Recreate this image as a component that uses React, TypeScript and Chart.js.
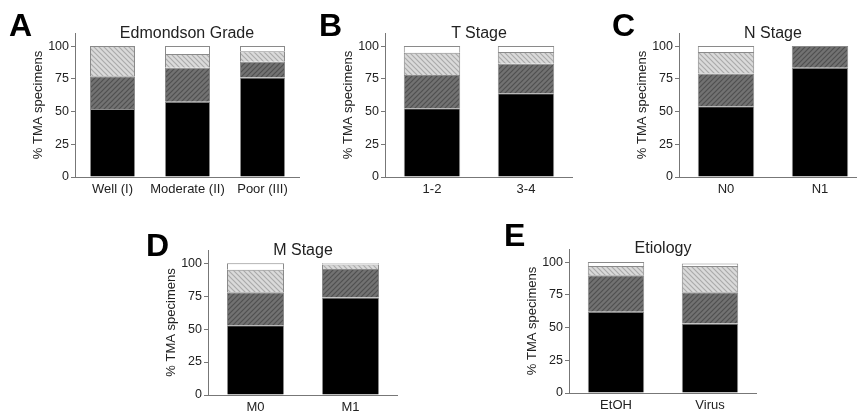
import React, { useEffect, useRef } from "react";
import { Chart, registerables } from "chart.js";

Chart.register(...registerables);

// ---- Data ----
const gradeLabels = ["Well (I)", "Moderate (II)", "Poor (III)"];
const gradeBlack = [52, 57.5, 76];
const gradeDark = [25, 26, 12];
const gradeLight = [23, 10.5, 8];
const gradeWhite = [0, 6, 4];

const tLabels = ["1-2", "3-4"];
const tBlack = [52.5, 64];
const tDark = [25.5, 22.5];
const tLight = [17, 9];
const tWhite = [5, 4.5];

const nLabels = ["N0", "N1"];
const nBlack = [54, 83.5];
const nDark = [25, 16.5];
const nLight = [16.5, 0];
const nWhite = [4.5, 0];

const mLabels = ["M0", "M1"];
const mBlack = [53, 74];
const mDark = [25, 21.5];
const mLight = [17, 3.5];
const mWhite = [5, 1];

const eLabels = ["EtOH", "Virus"];
const eBlack = [62, 53];
const eDark = [28, 24];
const eLight = [7, 20];
const eWhite = [3, 2];

const yTicks = [0, 25, 50, 75, 100];

const FONT = "Arial, 'Liberation Sans', Helvetica, sans-serif";

function makePattern(bg: string, line: string, forward: boolean) {
  const c = document.createElement("canvas");
  c.width = 5;
  c.height = 5;
  const ctx = c.getContext("2d")!;
  ctx.fillStyle = bg;
  ctx.fillRect(0, 0, 5, 5);
  ctx.strokeStyle = line;
  ctx.lineWidth = 1.2;
  ctx.beginPath();
  if (forward) {
    ctx.moveTo(-1, 6); ctx.lineTo(6, -1);
    ctx.moveTo(-1, 1); ctx.lineTo(1, -1);
    ctx.moveTo(4, 6); ctx.lineTo(6, 4);
  } else {
    ctx.moveTo(-1, -1); ctx.lineTo(6, 6);
    ctx.moveTo(4, -1); ctx.lineTo(6, 1);
    ctx.moveTo(-1, 4); ctx.lineTo(1, 6);
  }
  ctx.stroke();
  return ctx.createPattern(c, "repeat")!;
}

type PanelProps = {
  labels: string[];
  black: number[];
  dark: number[];
  light: number[];
  white: number[];
  left: number;
  top: number;
  width: number;
  height: number;
};

function Panel(p: PanelProps) {
  const ref = useRef<HTMLCanvasElement>(null);
  useEffect(() => {
    const darkPat = makePattern("#727272", "#505050", true);
    const lightPat = makePattern("#dadada", "#ababab", false);
    const common = {
      borderColor: "#8a8a8a",
      borderWidth: 1,
      categoryPercentage: 0.6,
      barPercentage: 1,
    };
    const chart = new Chart(ref.current!, {
      type: "bar",
      data: {
        labels: p.labels,
        datasets: [
          { ...common, data: p.black, backgroundColor: "#000000" },
          { ...common, data: p.dark, backgroundColor: darkPat as any },
          { ...common, data: p.light, backgroundColor: lightPat as any },
          { ...common, data: p.white, backgroundColor: "#ffffff" },
        ],
      },
      options: {
        animation: false,
        responsive: false,
        maintainAspectRatio: false,
        layout: { padding: { top: 10, left: 0, right: 0, bottom: 0 } },
        plugins: { legend: { display: false }, tooltip: { enabled: false }, title: { display: false } },
        scales: {
          x: {
            stacked: true,
            offset: true,
            afterFit: (s: any) => { s.height = 23; },
            grid: { drawOnChartArea: false, drawTicks: false, color: "#777" },
            border: { display: true, color: "#777", width: 1 },
            ticks: { font: { family: FONT, size: 13 }, color: "#222", padding: 5, maxRotation: 0, autoSkip: false },
          },
          y: {
            stacked: true,
            min: 0,
            max: 110,
            afterFit: (s: any) => { s.width = 50; },
            afterBuildTicks: (s: any) => { s.ticks = yTicks.map((v) => ({ value: v })); },
            grid: { drawOnChartArea: false, drawTicks: true, tickLength: 4, color: "#777" },
            border: { display: true, color: "#777", width: 1 },
            ticks: { font: { family: FONT, size: 12.5 }, color: "#222", padding: 2 },
            title: {
              display: true,
              text: "% TMA specimens",
              font: { family: FONT, size: 13 },
              color: "#222",
              padding: { top: 6, bottom: 0 },
            },
          },
        },
      },
    } as any);
    return () => chart.destroy();
  }, []);
  return (
    <canvas
      ref={ref}
      width={p.width}
      height={p.height}
      style={{ position: "absolute", left: p.left, top: p.top, width: p.width, height: p.height }}
    />
  );
}

function Letter({ t, left, top }: { t: string; left: number; top: number }) {
  return (
    <div style={{ position: "absolute", left, top, font: `bold 32px ${FONT}`, lineHeight: "32px", color: "#000" }}>{t}</div>
  );
}

function Title({ t, cx, top }: { t: string; cx: number; top: number }) {
  return (
    <div
      style={{
        position: "absolute",
        left: cx - 100,
        width: 200,
        top,
        textAlign: "center",
        font: `16px ${FONT}`,
        lineHeight: "16px",
        color: "#222",
      }}
    >
      {t}
    </div>
  );
}

export default function App() {
  return (
    <div style={{ position: "fixed", left: 0, top: 0, width: 857, height: 414, overflow: "hidden", background: "#fff" }}>
      <Panel labels={gradeLabels} black={gradeBlack} dark={gradeDark} light={gradeLight} white={gradeWhite}
        left={25} top={23} width={275} height={177} />
      <Panel labels={tLabels} black={tBlack} dark={tDark} light={tLight} white={tWhite}
        left={335} top={23} width={238} height={177} />
      <Panel labels={nLabels} black={nBlack} dark={nDark} light={nLight} white={nWhite}
        left={629} top={23} width={238} height={177} />
      <Panel labels={mLabels} black={mBlack} dark={mDark} light={mLight} white={mWhite}
        left={158} top={240} width={240} height={178} />
      <Panel labels={eLabels} black={eBlack} dark={eDark} light={eLight} white={eWhite}
        left={519} top={239} width={238} height={177} />

      <Letter t="A" left={9} top={9} />
      <Letter t="B" left={319} top={9} />
      <Letter t="C" left={612} top={9} />
      <Letter t="D" left={146} top={229} />
      <Letter t="E" left={504} top={219} />

      <Title t="Edmondson Grade" cx={187} top={25} />
      <Title t="T Stage" cx={479} top={25} />
      <Title t="N Stage" cx={773} top={25} />
      <Title t="M Stage" cx={303} top={242} />
      <Title t="Etiology" cx={663} top={240} />
    </div>
  );
}
